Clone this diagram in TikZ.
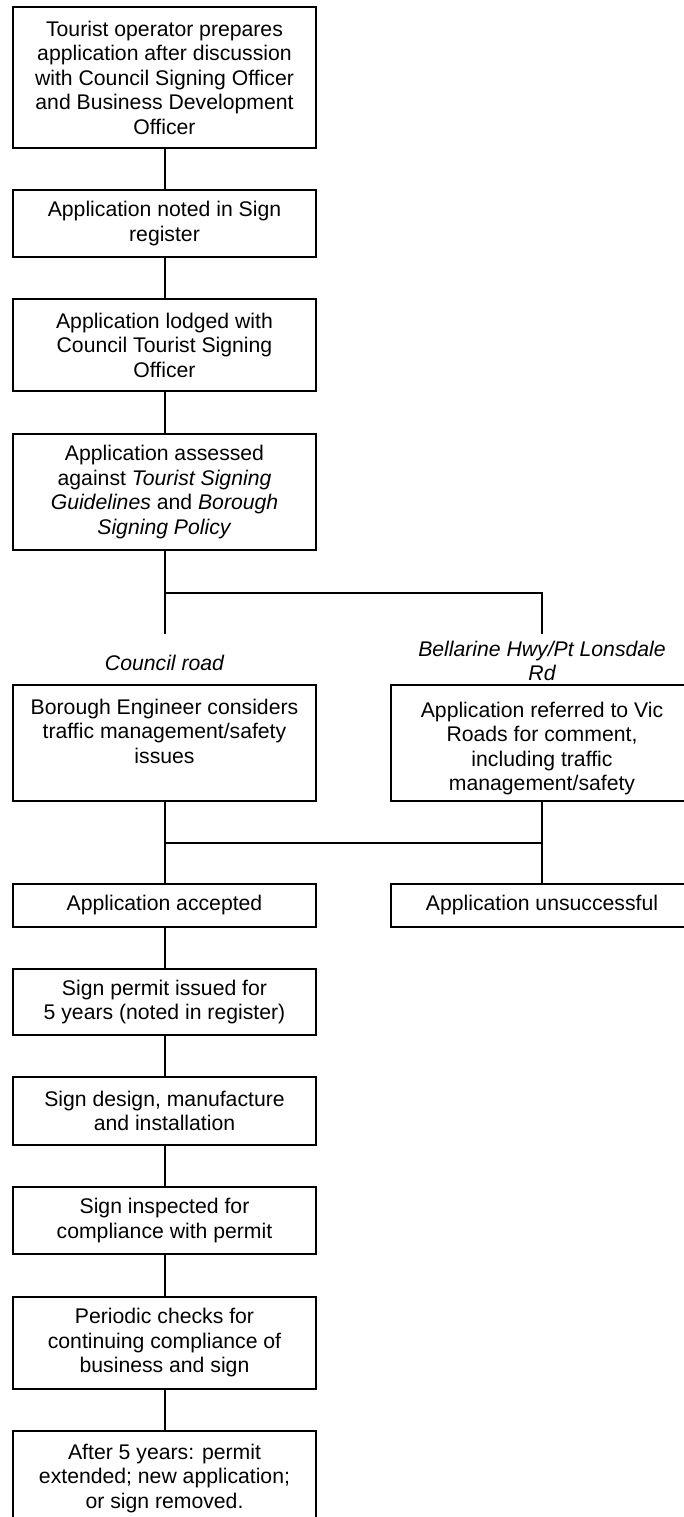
\documentclass[tikz,border=0pt]{standalone}
\usepackage{fontspec}
\setmainfont{Liberation Sans}
\begin{document}
\begin{tikzpicture}[x=1pt,y=-1pt,
  every node/.style={font=\fontsize{21.2pt}{24.5pt}\selectfont, align=center, inner sep=0pt},
  box/.style={draw, line width=2pt, minimum width=303pt},
  conn/.style={line width=2pt},
  lbl/.style={font=\fontsize{21.2pt}{24.5pt}\selectfont\itshape}]
\useasboundingbox (0,0) rectangle (684,1517);
% main column
\node[box, minimum height=141pt] (b1) at (164.5,77.5) {Tourist operator prepares\\application after discussion\\with Council Signing Officer\\and Business Development\\Officer};
\node[box, minimum height=67pt] (b2) at (164.5,223.5) {Application noted in Sign\\register};
\node[box, minimum height=92pt] (b3) at (164.5,345) {Application lodged with\\Council Tourist Signing\\Officer};
\node[box, minimum height=116pt] (b4) at (164.5,492) {Application assessed\\against \textit{Tourist Signing}\\\textit{Guidelines} and \textit{Borough}\\\textit{Signing Policy}};
% branch
\coordinate (j1) at (164.5,593);
\coordinate (j2) at (542,593);
\coordinate (e1) at (164.5,634);
\coordinate (e2) at (542,634);
\draw[conn] (b4.south) -- (e1);
\draw[conn] (j1) -- (j2) -- (e2);
\node[lbl] (l1) at (164.5,663) {Council road};
\node[lbl] (l2) at (542,661) {Bellarine Hwy/Pt Lonsdale\\Rd};
% two options
\node[box, minimum height=116pt] (b5) at (164.5,743) {};
\node (t5) at (164.5,731) {Borough Engineer considers\\traffic management/safety\\issues};
\node[box, minimum height=116pt] (b6) at (542,743) {};
\node (t6) at (542,748.5) {Application referred to Vic\\Roads for comment,\\including traffic\\management/safety};
% merge
\node[box, minimum height=43pt] (b7) at (164.5,905.5) {Application accepted};
\node[box, minimum height=43pt] (b7r) at (542,905.5) {Application unsuccessful};
\coordinate (m1) at (164.5,843);
\coordinate (m2) at (542,843);
\draw[conn] (b5.south) -- (b7.north);
\draw[conn] (b6.south) -- (b7r.north);
\draw[conn] (m1) -- (m2);
% rest
\node[box, minimum height=66pt] (b8) at (164.5,1002) {Sign permit issued for\\5 years (noted in register)};
\node[box, minimum height=68pt] (b9) at (164.5,1111) {Sign design, manufacture\\and installation};
\node[box, minimum height=67pt] (b10) at (164.5,1220.5) {Sign inspected for\\compliance with permit};
\node[box, minimum height=92pt] (b11) at (164.5,1343) {Periodic checks for\\continuing compliance of\\business and sign};
\node[box, minimum height=94pt] (b12) at (164.5,1478) {After 5 years: permit\\extended; new application;\\or sign removed.};
\draw[conn] (b1.south) -- (b2.north);
\draw[conn] (b2.south) -- (b3.north);
\draw[conn] (b3.south) -- (b4.north);
\draw[conn] (b7.south) -- (b8.north);
\draw[conn] (b8.south) -- (b9.north);
\draw[conn] (b9.south) -- (b10.north);
\draw[conn] (b10.south) -- (b11.north);
\draw[conn] (b11.south) -- (b12.north);
\end{tikzpicture}
\end{document}
